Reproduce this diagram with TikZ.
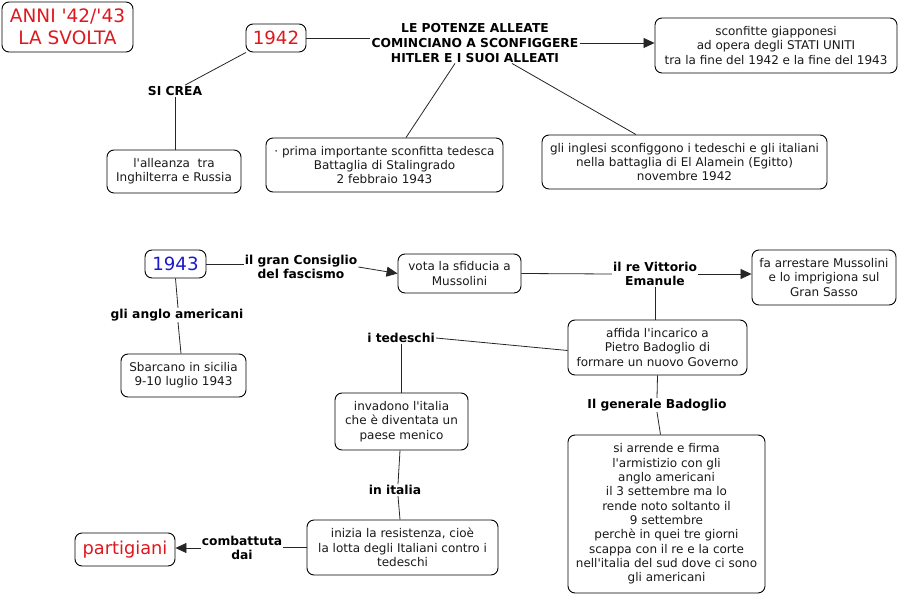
\documentclass[tikz,border=0pt]{standalone}
\usepackage{fontspec}
\setmainfont{DejaVu Sans}
\usetikzlibrary{arrows.meta}
\definecolor{cmred}{RGB}{222,24,30}
\definecolor{cmblue}{RGB}{26,26,204}
\newcommand\apos{\textquotesingle}
\tikzset{
  cbox/.style={draw, rounded corners=7pt, line width=0.9pt, align=center, inner sep=2pt,
    font=\fontsize{12}{14.3}\selectfont, text=black!90},
  clab/.style={align=center, inner sep=1pt, font=\fontsize{12.3}{14.6}\selectfont\bfseries},
  conn/.style={line width=0.8pt, black!85},
  arr/.style={conn, -{Triangle[length=11pt,width=10pt]}},
}
\begin{document}
\begin{tikzpicture}[x=1pt,y=-1pt]
\useasboundingbox (0,0) rectangle (899,596);
% nodes
\node[cbox, minimum width=131pt, minimum height=50pt, text=cmred, font=\fontsize{18.5}{22}\selectfont] (title) at (67.5,27) {ANNI \apos42/\apos43\\LA SVOLTA};
\node[cbox, minimum width=60pt, minimum height=28pt, text=cmred, font=\fontsize{18.2}{20}\selectfont] (n1942) at (276,38) {1942};
\node[clab] (lpot) at (475,43) {LE POTENZE ALLEATE\\COMINCIANO A SCONFIGGERE\\HITLER E I SUOI ALLEATI};
\node[cbox, minimum width=242pt, minimum height=55pt] (giap) at (776,45.5) {sconfitte giapponesi\\ad opera degli STATI UNITI\\tra la fine del 1942 e la fine del 1943};
\node[clab] (sicrea) at (175,91) {SI CREA};
\node[cbox, minimum width=134pt, minimum height=43pt] (alleanza) at (174,171.5) {l\apos alleanza\ \ tra\\Inghilterra e Russia};
\node[cbox, minimum width=237pt, minimum height=54pt] (stalin) at (384.5,165) {· prima importante sconfitta tedesca\\Battaglia di Stalingrado\\2 febbraio 1943};
\node[cbox, minimum width=285pt, minimum height=54pt] (alamein) at (684.5,162) {gli inglesi sconfiggono i tedeschi e gli italiani\\nella battaglia di El Alamein (Egitto)\\novembre 1942};
\node[cbox, minimum width=61pt, minimum height=28pt, text=cmblue, font=\fontsize{18.2}{20}\selectfont] (n1943) at (175.5,264) {1943};
\node[clab] (gran) at (301,267) {il gran Consiglio\\del fascismo};
\node[cbox, minimum width=123pt, minimum height=39pt] (vota) at (459.5,273.5) {vota la sfiducia a\\Mussolini};
\node[clab] (re) at (655,274) {il re Vittorio\\Emanule};
\node[cbox, minimum width=144pt, minimum height=55pt] (arresta) at (824,277.5) {fa arrestare Mussolini\\e lo imprigiona sul\\Gran Sasso};
\node[clab] (anglo) at (177,315) {gli anglo americani};
\node[cbox, minimum width=125pt, minimum height=43pt] (sbarcano) at (183.5,375.5) {Sbarcano in sicilia\\9-10 luglio 1943};
\node[clab] (tedeschi) at (401,338) {i tedeschi};
\node[cbox, minimum width=179pt, minimum height=55pt] (affida) at (657.5,347.5) {affida l\apos incarico a\\Pietro Badoglio di\\formare un nuovo Governo};
\node[cbox, minimum width=133pt, minimum height=57pt] (invadono) at (401.5,421.5) {invadono l\apos italia\\che è diventata un\\paese menico};
\node[clab] (generale) at (657,405) {Il generale Badoglio};
\node[cbox, minimum width=197pt, minimum height=158pt] (armist) at (666.5,514) {si arrende e firma\\l\apos armistizio con gli\\anglo americani\\il 3 settembre ma lo\\rende noto soltanto il\\9 settembre\\perchè in quei tre giorni\\scappa con il re e la corte\\nell\apos italia del sud dove ci sono\\gli americani};
\node[clab] (initalia) at (395,490) {in italia};
\node[cbox, minimum width=191pt, minimum height=55pt] (inizia) at (402.5,547.5) {inizia la resistenza, cioè\\la lotta degli Italiani contro i\\tedeschi};
\node[clab] (combattuta) at (242,548) {combattuta\\dai};
\node[cbox, minimum width=100pt, minimum height=33pt, text=cmred, font=\fontsize{17.8}{20}\selectfont] (partigiani) at (125,549.5) {partigiani};
% connectors
\draw[conn] (n1942.east) -- (lpot.west |- n1942.east);
\draw[arr] (lpot.east) -- (giap.west |- lpot.east);
\draw[conn] ([xshift=-20pt]lpot.south) -- ([xshift=21.5pt]stalin.north);
\draw[conn] ([xshift=37pt]lpot.south) -- ([xshift=-48.5pt]alamein.north);
\draw[conn] ([xshift=-30pt]n1942.south) -- ([xshift=10pt]sicrea.north);
\draw[conn] (sicrea.south) -- (sicrea.south |- alleanza.north);
\draw[conn] (n1943.east) -- (gran.west |- n1943.east);
\draw[arr] (gran.east) -- (vota.west);
\draw[conn] (vota.east) -- (re.west);
\draw[arr] (re.east) -- (arresta.west |- re.east);
\draw[conn] (re.south) -- (re.south |- affida.north);
\draw[conn] (n1943.south) -- ([xshift=1pt]anglo.north);
\draw[conn] ([xshift=1pt]anglo.south) -- ([xshift=-2.5pt]sbarcano.north);
\draw[conn] ([yshift=-3pt]affida.west) -- (tedeschi.east);
\draw[conn] (tedeschi.south) -- (tedeschi.south |- invadono.north);
\draw[conn] (affida.south) -- (generale.north);
\draw[conn] (generale.south) -- ([xshift=-6pt]armist.north);
\draw[conn] ([xshift=-1.5pt]invadono.south) -- ([xshift=3pt]initalia.north);
\draw[conn] ([xshift=3pt]initalia.south) -- ([xshift=-2.5pt]inizia.north);
\draw[conn] (inizia.west) -- (combattuta.east |- inizia.west);
\draw[arr] (combattuta.west) -- (partigiani.east |- combattuta.west);
\end{tikzpicture}
\end{document}
